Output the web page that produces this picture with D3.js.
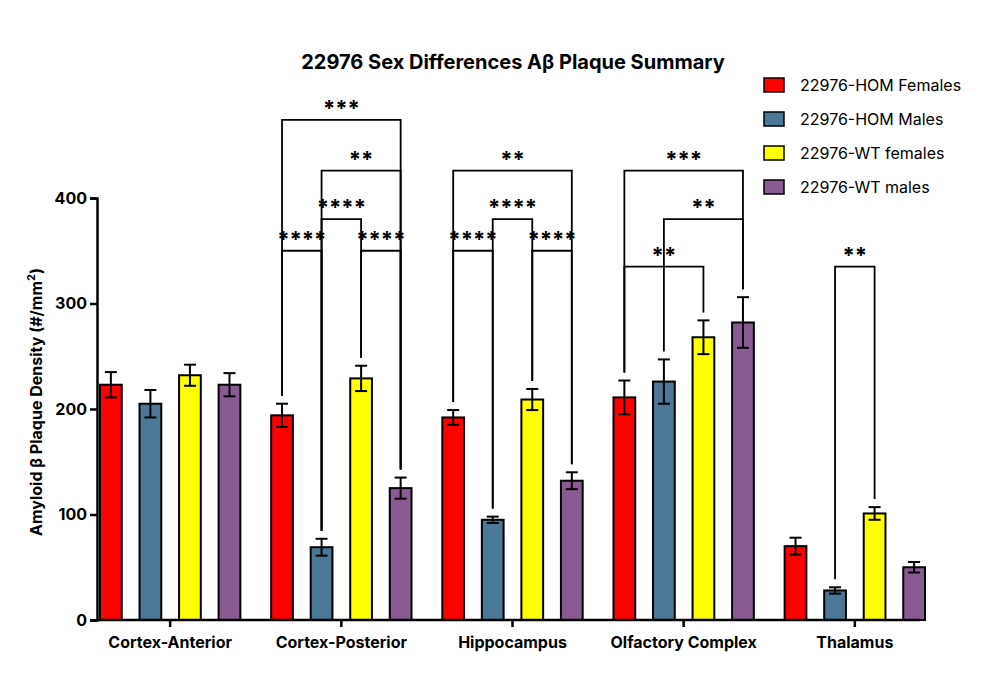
<!DOCTYPE html><html><head><meta charset="utf-8"><script src="https://cdn.jsdelivr.net/npm/d3@7"></script>
<style>body{margin:0;background:#fff}text{font-family:Inter,"Open Sans",sans-serif}</style></head><body><svg id="c" width="1000" height="700"></svg><script>
const categories=["Cortex-Anterior","Cortex-Posterior","Hippocampus","Olfactory Complex","Thalamus"];
const series=["22976-HOM Females","22976-HOM Males","22976-WT females","22976-WT males"];
const colors=["#ff0000","#4a7896","#ffff00","#8a5a93"];
const values=[[223,205,232,223],[194,69,229,125],[192,95,209,132],[211,226,268,282],[70,28,101,50]];
const errors=[[12,13,10,11],[11,8,12,10],[7,3,10,8],[16,21,16,24],[8,3,6,5]];
// [category, bar a, bar b, level value, stars]
const sig=[[1,0,1,350,"****"],[1,2,3,350,"****"],[1,1,2,380,"****"],[1,1,3,426,"**"],[1,0,3,474,"***"],
[2,0,1,350,"****"],[2,2,3,350,"****"],[2,1,2,380,"****"],[2,0,3,426,"**"],
[3,0,2,335,"**"],[3,1,3,380,"**"],[3,0,3,426,"***"],[4,1,2,335,"**"]];
const yTicks=[0,100,200,300,400];
const svg=d3.select("#c");
const y=d3.scaleLinear().domain([0,400]).range([620,198]);
const x0=d3.scaleBand().domain(categories).range([100,925]).paddingInner(0.18).paddingOuter(0.0);
const x1=d3.scaleBand().domain(d3.range(4)).range([0,x0.bandwidth()]).paddingInner(0.45);
const bx=(c,s)=>x0(categories[c])+x1(s);
const g=svg.append("g");
values.forEach((vs,c)=>vs.forEach((v,s)=>{
 const X=bx(c,s),w=x1.bandwidth();
 g.append("rect").attr("x",X).attr("y",y(v)).attr("width",w).attr("height",y(0)-y(v)).attr("fill",colors[s]).attr("stroke","#000").attr("stroke-width",2);
 const cx=X+w/2,e=errors[c][s];
 g.append("line").attr("x1",cx).attr("x2",cx).attr("y1",y(v-e)).attr("y2",y(v+e)).attr("stroke","#000").attr("stroke-width",2);
 [v-e,v+e].forEach(t=>g.append("line").attr("x1",cx-6).attr("x2",cx+6).attr("y1",y(t)).attr("y2",y(t)).attr("stroke","#000").attr("stroke-width",2));
}));
sig.forEach(([c,a,b,lv,st])=>{
 const xa=bx(c,a)+x1.bandwidth()/2,xb=bx(c,b)+x1.bandwidth()/2;
 const ya=y(values[c][a]+errors[c][a])-8,yb=y(values[c][b]+errors[c][b])-8,yl=y(lv);
 g.append("path").attr("d",`M${xa},${ya}V${yl}H${xb}V${yb}`).attr("fill","none").attr("stroke","#000").attr("stroke-width",1.8);
 g.append("text").attr("x",(xa+xb)/2).attr("y",yl-4).attr("text-anchor","middle").attr("font-size",22).attr("font-weight","bold").text(st);
});
const ya=d3.axisLeft(y).tickValues(yTicks).tickSize(7);
const ay=svg.append("g").attr("transform","translate(97,0)").call(ya);
ay.select(".domain").attr("stroke-width",2.5);ay.selectAll("line").attr("stroke-width",2.5);
ay.selectAll("text").attr("font-size",16).attr("font-weight","bold").attr("fill","#000");
const xa=d3.axisBottom(x0).tickSize(7);
const ax=svg.append("g").attr("transform","translate(0,620)").call(xa);
ax.select(".domain").attr("d","M97,0H920").attr("stroke-width",2.5);ax.selectAll("line").attr("stroke-width",2.5);
ax.selectAll("text").attr("font-size",16).attr("font-weight","bold").attr("fill","#000").attr("dy","1.1em");
svg.append("text").attr("x",513).attr("y",69).attr("text-anchor","middle").attr("font-size",20).attr("font-weight","bold").text("22976 Sex Differences Aβ Plaque Summary");
const yl=svg.append("text").attr("transform","translate(42,402) rotate(-90)").attr("text-anchor","middle").attr("font-size",16).attr("font-weight","bold");
yl.append("tspan").text("Amyloid β Plaque Density (#/mm");yl.append("tspan").attr("font-size",11).attr("dy",-7).text("2");yl.append("tspan").attr("dy",7).text(")");
series.forEach((s,i)=>{
 svg.append("rect").attr("x",764).attr("y",78+i*34).attr("width",20).attr("height",14).attr("fill",colors[i]).attr("stroke","#000").attr("stroke-width",1.5);
 svg.append("text").attr("x",800).attr("y",91+i*34).attr("font-size",16).text(s);
});
</script></body></html>
